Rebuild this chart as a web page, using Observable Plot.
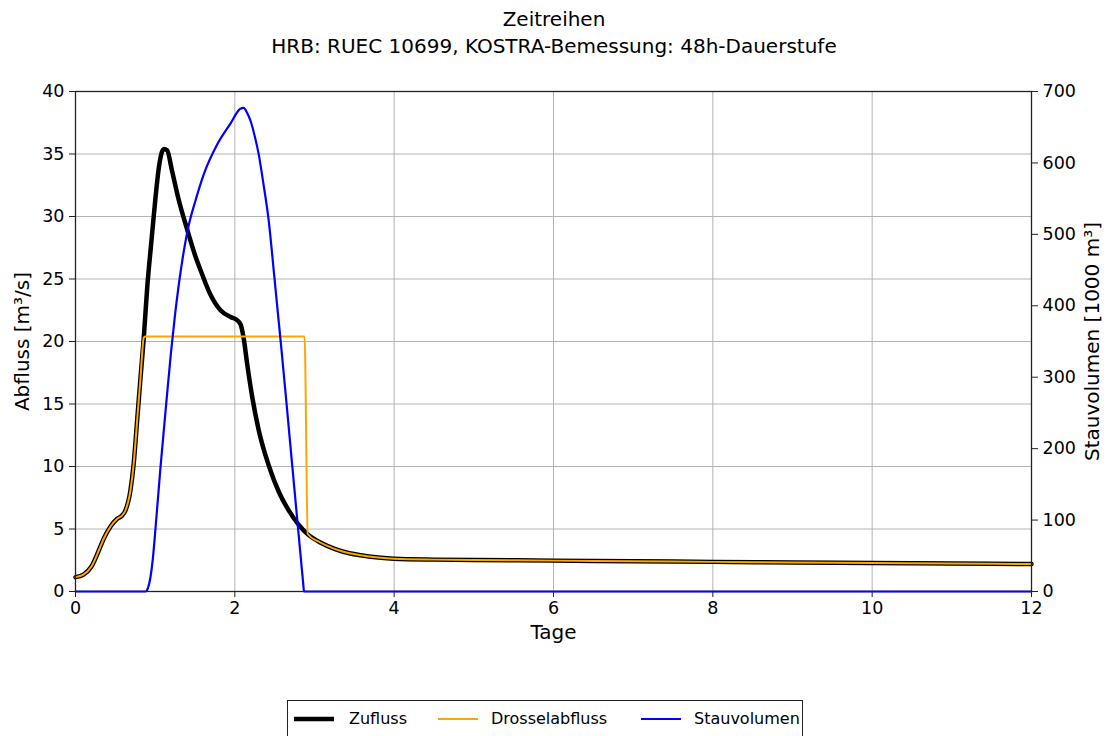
<!DOCTYPE html>
<html>
<head>
<meta charset="utf-8">
<script src="https://cdn.jsdelivr.net/npm/d3@7"></script>
<script src="https://cdn.jsdelivr.net/npm/@observablehq/plot@0.6"></script>
<style>
  body { margin:0; background:#fff; font-family:"DejaVu Sans", sans-serif; }
  #wrap { position:relative; width:1108px; height:736px; overflow:hidden; }
  #title { position:absolute; left:0; top:6px; width:1108px; text-align:center; font-size:20px; line-height:27px; color:#000; }
  #chart { position:absolute; left:0; top:62px; }
  #legend { position:absolute; left:287px; top:700px; width:516px; height:44px; border:1px solid #222; box-sizing:border-box; background:#fff; }
  .item { position:absolute; top:6px; height:24px; font-size:16px; line-height:24px; }
  .item svg { position:absolute; left:0; top:0; }
  .item span { position:absolute; white-space:nowrap; }
</style>
</head>
<body>
<div id="wrap">
  <div id="title">Zeitreihen<br>HRB: RUEC 10699, KOSTRA-Bemessung: 48h-Dauerstufe</div>
  <div id="chart"></div>
  <div id="legend"></div>
</div>
<script>
// ---- data ----
const seriesNames = ["Zufluss", "Drosselabfluss", "Stauvolumen"];
const seriesColors = ["#000000", "#FFA500", "#0000FF"];

// Zufluss [m³/s]
const zuTage = [0,0.1,0.2,0.3,0.36,0.44,0.52,0.58,0.628,0.69,0.73,0.774,0.816,0.857,0.9,0.954,1.004,1.046,1.109,1.15,1.21,1.297,1.4,1.506,1.57,1.69,1.82,1.95,2.008,2.07,2.11,2.155,2.22,2.3,2.43,2.55,2.68,2.8,2.92,3.05,3.16,3.35,3.58,3.8,4,4.5,5,6,7,8,9,10,11,12];
const zufluss = [1.15,1.35,2.0,3.4,4.3,5.2,5.8,6.05,6.5,8.1,10.2,13.7,17.1,20.3,24.3,28.1,31.5,33.9,35.4,35.3,33.7,31.3,29.0,26.8,25.7,23.8,22.5,21.95,21.8,21.4,20.3,18.2,15.5,12.9,10.0,8.0,6.45,5.35,4.55,4.0,3.65,3.2,2.9,2.72,2.62,2.55,2.52,2.47,2.42,2.37,2.32,2.28,2.24,2.2];

// Drosselabfluss [m³/s]
const drTage = [0,0.1,0.2,0.3,0.36,0.44,0.52,0.58,0.628,0.69,0.73,0.774,0.816,0.857,0.875,1.5,2.0,2.5,2.875,2.915,3.05,3.16,3.35,3.58,3.8,4,4.5,5,6,7,8,9,10,11,12];
const drossel = [1.15,1.35,2.0,3.4,4.3,5.2,5.8,6.05,6.5,8.1,10.2,13.7,17.1,20.3,20.4,20.4,20.4,20.4,20.4,4.6,4.0,3.65,3.2,2.9,2.72,2.62,2.55,2.52,2.47,2.42,2.37,2.32,2.28,2.24,2.2];

// Stauvolumen [1000 m³]
const stTage = [0,0.5,0.88,0.91,0.941,0.97,1.004,1.067,1.138,1.199,1.25,1.297,1.35,1.42,1.5,1.61,1.78,1.945,2.07,2.11,2.155,2.2,2.24,2.3,2.36,2.42,2.5,2.58,2.65,2.72,2.79,2.86,2.868,4,6,8,10,12];
const stauvolumen = [0,0,0,5,20,45,88,174,262,335,388,430,470,512,545,584,626,655,676,677,670,658,642,612,570,524,436,345,262,177,93,9,0,0,0,0,0,0];

const xTicks = [0,2,4,6,8,10,12];
const yTicks = [0,5,10,15,20,25,30,35,40];
const y2Ticks = [0,100,200,300,400,500,600,700];
const yMax = 40, y2Max = 700;

// ---- build ----
const toY = v => v * yMax / y2Max;
const zuData = zuTage.map((t,i) => ({t, v: zufluss[i]}));
const drData = drTage.map((t,i) => ({t, v: drossel[i]}));
const stData = stTage.map((t,i) => ({t, v: toY(stauvolumen[i])}));

const font = "DejaVu Sans, sans-serif";
const plot = Plot.plot({
  width: 1108, height: 620,
  marginTop: 29, marginBottom: 91, marginLeft: 75, marginRight: 77,
  style: {fontFamily: font, fontSize: "17.5px", color: "#000", background: "#fff", overflow: "visible"},
  x: {domain: [0, 12]},
  y: {domain: [0, yMax]},
  marks: [
    Plot.gridX(xTicks, {stroke: "#b4b4b4", strokeOpacity: 1, strokeWidth: 1}),
    Plot.gridY(yTicks, {stroke: "#b4b4b4", strokeOpacity: 1, strokeWidth: 1}),
    Plot.line(zuData, {x: "t", y: "v", stroke: seriesColors[0], strokeWidth: 4.5, curve: "monotone-x"}),
    Plot.line(drData, {x: "t", y: "v", stroke: seriesColors[1], strokeWidth: 2, curve: "monotone-x"}),
    Plot.line(stData, {x: "t", y: "v", stroke: seriesColors[2], strokeWidth: 2.2, curve: "monotone-x"}),
    Plot.frame({stroke: "#222", strokeWidth: 1.3}),
    Plot.axisX(xTicks, {tickSize: 6, tickPadding: 4, label: null, stroke: "#222"}),
    Plot.axisY(yTicks, {anchor: "left", tickSize: 6, tickPadding: 5, label: null, stroke: "#222"}),
    Plot.axisY(y2Ticks.map(toY), {anchor: "right", tickSize: 6, tickPadding: 5, label: null, stroke: "#222",
      tickFormat: d => String(Math.round(d * y2Max / yMax))}),
    Plot.text(["Abfluss [m³/s]"], {frameAnchor: "left", dx: -53, rotate: -90, textAnchor: "middle", fontSize: 20, fill: "#000"}),
    Plot.text(["Stauvolumen [1000 m³]"], {frameAnchor: "right", dx: 61, rotate: -90, textAnchor: "middle", fontSize: 20, fill: "#000"}),
    Plot.text(["Tage"], {frameAnchor: "bottom", dy: 47, fontSize: 20, fill: "#000"})
  ]
});
document.getElementById("chart").appendChild(plot);

// legend
const legend = document.getElementById("legend");
const items = [
  {x: 5, w: 4.5, textX: 61},
  {x: 149, w: 2, textX: 203},
  {x: 352, w: 2.2, textX: 406}
];
seriesNames.forEach((name, i) => {
  const it = items[i];
  const d = document.createElement("div");
  d.className = "item";
  d.style.left = it.x + "px";
  d.innerHTML = `<svg width="44" height="24"><line x1="1" x2="41" y1="12" y2="12" stroke="${seriesColors[i]}" stroke-width="${it.w}"/></svg><span style="left:${it.textX - it.x}px">${name}</span>`;
  legend.appendChild(d);
});
</script>
</body>
</html>
